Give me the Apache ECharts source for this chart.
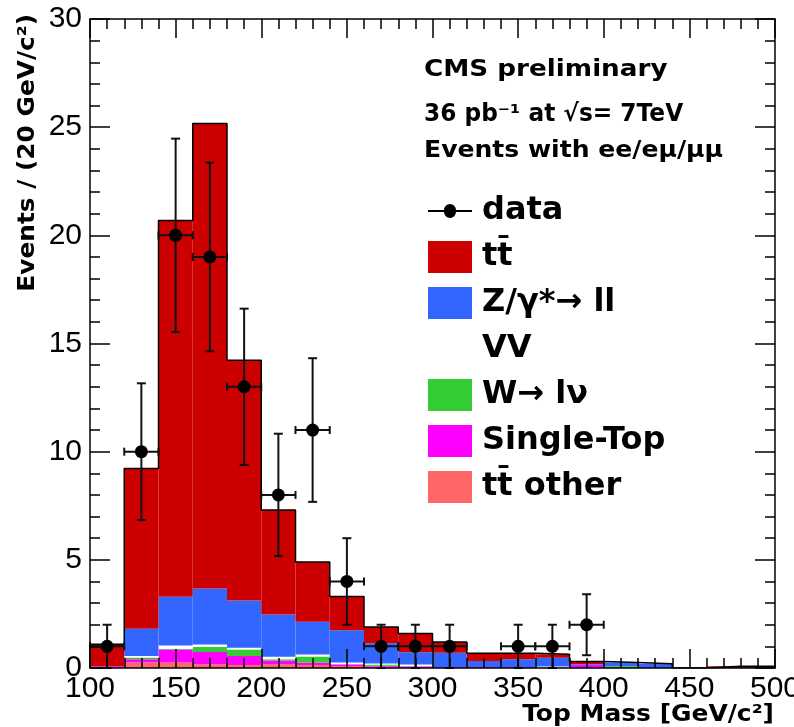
<!DOCTYPE html>
<html><head><meta charset="utf-8">
<script src="https://cdn.jsdelivr.net/npm/echarts@6.0.0/dist/echarts.min.js"></script>
<style>html,body{margin:0;padding:0;background:#fff}#c{width:794px;height:727px}</style>
</head><body><div id="c"></div>
<script>
// ---- bins (GeV/c^2) ----
const binLow  = [100,120,140,160,180,200,220,240,260,280,300,320,340,360,380,400,420,440,460,480];
const binHigh = [120,140,160,180,200,220,240,260,280,300,320,340,360,380,400,420,440,460,480,500];
// ---- stacked MC components (events / bin) ----
const ttbar     = [1.02,7.40,17.40,21.50,11.10,4.83,2.76,1.56,0.76,0.87,0.50,0.36,0.28,0.16,0.12,0.00,0.00,0.00,0.08,0.08];
const zll       = [0.00,1.26,2.25,2.58,2.18,1.95,1.52,1.49,0.93,0.57,0.65,0.27,0.35,0.40,0.03,0.17,0.20,0.00,0.00,0.00];
const vv        = [0.00,0.08,0.15,0.12,0.08,0.12,0.09,0.08,0.05,0.08,0.00,0.00,0.00,0.05,0.00,0.00,0.00,0.00,0.00,0.00];
const wlnu      = [0.00,0.08,0.03,0.23,0.31,0.05,0.28,0.00,0.06,0.00,0.00,0.00,0.00,0.00,0.00,0.08,0.00,0.00,0.00,0.00];
const singleTop = [0.08,0.15,0.61,0.57,0.41,0.18,0.11,0.08,0.04,0.03,0.05,0.05,0.05,0.02,0.15,0.00,0.00,0.00,0.00,0.00];
const ttOther   = [0.00,0.25,0.25,0.17,0.14,0.17,0.14,0.09,0.06,0.05,0.00,0.00,0.00,0.00,0.00,0.00,0.00,0.00,0.00,0.00];
// ---- data ----
const dataX       = [110,130,150,170,190,210,230,250,270,290,310,350,370,390];
const dataY       = [1,10,20,19,13,8,11,4,1,1,1,1,1,2];
const dataErrLow  = [1,3.16,4.47,4.36,3.61,2.83,3.32,2,1,1,1,1,1,1.41];
const dataErrHigh = [1,3.16,4.47,4.36,3.61,2.83,3.32,2,1,1,1,1,1,1.41];
const dataXErr    = [10,10,10,10,10,10,10,10,10,10,10,10,10,10];
// ---- labels ----
const legendNames = ['data','tt\u0304','Z/\u03b3*\u2192 ll','VV','W\u2192 l\u03bd','Single-Top','tt\u0304 other'];
const headerLines = ['CMS preliminary','36 pb\u207b\u00b9 at \u221as= 7TeV','Events with ee/e\u03bc/\u03bc\u03bc'];
const xTitle = 'Top Mass [GeV/c\u00b2]';
const yTitle = 'Events / (20 GeV/c\u00b2)';

const components = [ // bottom -> top
  {name: legendNames[6], vals: ttOther,   color: '#ff6666'},
  {name: legendNames[5], vals: singleTop, color: '#ff00ff'},
  {name: legendNames[4], vals: wlnu,      color: '#33cc33'},
  {name: legendNames[3], vals: vv,        color: '#ffffff'},
  {name: legendNames[2], vals: zll,       color: '#3366ff'},
  {name: legendNames[1], vals: ttbar,     color: '#cc0000'}
];
const base = binLow.map(() => 0);
const stackSeries = components.map(c => {
  const items = binLow.map((lo, i) => {
    const b = base[i];
    base[i] = b + c.vals[i];
    return [lo, binHigh[i], b, b + c.vals[i]];
  });
  return {
    type: 'custom', name: c.name, z: 2,
    itemStyle: {color: c.color},
    encode: {x: [0, 1], y: [2, 3]},
    data: items,
    renderItem: function (params, api) {
      if (api.value(3) - api.value(2) <= 0) return null;
      const p0 = api.coord([api.value(0), api.value(3)]);
      const p1 = api.coord([api.value(1), api.value(2)]);
      return {type: 'rect', shape: {x: p0[0], y: p0[1], width: p1[0] - p0[0], height: p1[1] - p0[1]},
              style: {fill: c.color}};
    }
  };
});
// outline of the total stack (step line)
const outline = [[binLow[0], 0]];
binLow.forEach((lo, i) => outline.push([lo, base[i]]));
outline.push([binHigh[binHigh.length - 1], base[base.length - 1]]);
outline.push([binHigh[binHigh.length - 1], 0]);

const dataItems = dataX.map((x, i) => [x, dataY[i], dataErrLow[i], dataErrHigh[i], dataXErr[i]]);

const chart = echarts.init(document.getElementById('c'), null, {renderer: 'canvas'});
const tickLine = {color: '#000', width: 1.5};
const labelFont = {fontFamily: '"Liberation Sans", Arial, sans-serif', fontSize: 30, color: '#000'};
const dataIcon = 'path://M0,15h16a6,6 0 1,1 12,0h16v2h-16a6,6 0 1,1 -12,0h-16z';

const option = {
  animation: false,
  backgroundColor: '#fff',
  grid: {left: 90, right: 19, top: 19, bottom: 59, containLabel: false, outerBoundsMode: 'none'},
  xAxis: [
    {type: 'value', min: 100, max: 500, interval: 50, position: 'bottom', z: 10,
     axisLine: {show: true, onZero: false, lineStyle: tickLine},
     axisTick: {show: true, inside: true, length: 19, lineStyle: tickLine},
     minorTick: {show: true, splitNumber: 5, length: 10, lineStyle: tickLine},
     axisLabel: Object.assign({margin: 6, showMinLabel: true, showMaxLabel: true, hideOverlap: false}, labelFont),
     splitLine: {show: false}, minorSplitLine: {show: false}},
    {type: 'value', min: 100, max: 500, interval: 50, position: 'top', z: 10,
     axisLine: {show: true, onZero: false, lineStyle: tickLine},
     axisTick: {show: true, inside: true, length: 19, lineStyle: tickLine},
     minorTick: {show: true, splitNumber: 5, length: 10, lineStyle: tickLine},
     axisLabel: {show: false}, splitLine: {show: false}}
  ],
  yAxis: [
    {type: 'value', min: 0, max: 30, interval: 5, position: 'left', z: 10,
     axisLine: {show: true, onZero: false, lineStyle: tickLine},
     axisTick: {show: true, inside: true, length: 20, lineStyle: tickLine},
     minorTick: {show: true, splitNumber: 5, length: 10, lineStyle: tickLine},
     axisLabel: Object.assign({margin: 8, showMinLabel: true, showMaxLabel: true, hideOverlap: false}, labelFont),
     splitLine: {show: false}, minorSplitLine: {show: false}},
    {type: 'value', min: 0, max: 30, interval: 5, position: 'right', z: 10,
     axisLine: {show: true, onZero: false, lineStyle: tickLine},
     axisTick: {show: true, inside: true, length: 20, lineStyle: tickLine},
     minorTick: {show: true, splitNumber: 5, length: 10, lineStyle: tickLine},
     axisLabel: {show: false}, splitLine: {show: false}}
  ],
  legend: {
    orient: 'vertical', left: 428, top: 195, padding: 0, itemWidth: 44, itemHeight: 32, itemGap: 14,
    selectedMode: false,
    textStyle: {fontFamily: '"DejaVu Sans", sans-serif', fontWeight: 'bold', fontSize: 32, color: '#000',
                lineHeight: 32, padding: [0, 0, 0, 5]},
    data: [
      {name: legendNames[0], icon: dataIcon},
      {name: legendNames[1], icon: 'rect'},
      {name: legendNames[2], icon: 'rect'},
      {name: legendNames[3], icon: 'rect'},
      {name: legendNames[4], icon: 'rect'},
      {name: legendNames[5], icon: 'rect'},
      {name: legendNames[6], icon: 'rect'}
    ]
  },
  graphic: [
    {type: 'text', x: 424, y: 70.5, scaleX: 1.14, z: 20,
     style: {text: headerLines[0], font: 'bold 23px "DejaVu Sans"', fill: '#000', verticalAlign: 'middle', align: 'left'}},
    {type: 'text', x: 424, y: 114.5, scaleX: 0.97, z: 20,
     style: {text: headerLines[1], font: 'bold 24px "DejaVu Sans"', fill: '#000', verticalAlign: 'middle', align: 'left'}},
    {type: 'text', x: 424, y: 151, scaleX: 1.09, z: 20,
     style: {text: headerLines[2], font: 'bold 23px "DejaVu Sans"', fill: '#000', verticalAlign: 'middle', align: 'left'}},
    {type: 'text', x: 774, y: 715, scaleX: 1.085, z: 20,
     style: {text: xTitle, font: 'bold 23px "DejaVu Sans"', fill: '#000', verticalAlign: 'middle', align: 'right'}},
    {type: 'text', x: 28, y: 14, rotation: Math.PI / 2, scaleX: 1.08, z: 20,
     style: {text: yTitle, font: 'bold 23px "DejaVu Sans"', fill: '#000', verticalAlign: 'middle', align: 'right'}}
  ],
  series: stackSeries.concat([
    {type: 'line', name: 'total', step: 'end', data: outline, symbol: 'none', z: 3,
     lineStyle: {color: '#000', width: 1.5}, silent: true, legendHoverLink: false},
    {type: 'custom', name: legendNames[0], z: 4, itemStyle: {color: '#000'},
     encode: {x: 0, y: 1},
     data: dataItems,
     renderItem: function (params, api) {
       const x = api.value(0), y = api.value(1), lo = api.value(2), hi = api.value(3), xe = api.value(4);
       const c = api.coord([x, y]);
       const top = api.coord([x, y + hi]);
       const bot = api.coord([x, y - lo]);
       const l = api.coord([x - xe, y]);
       const r = api.coord([x + xe, y]);
       const ls = {stroke: '#111', lineWidth: 2};
       return {type: 'group', children: [
         {type: 'line', shape: {x1: c[0], y1: top[1], x2: c[0], y2: bot[1]}, style: ls},
         {type: 'line', shape: {x1: c[0] - 4.5, y1: top[1], x2: c[0] + 4.5, y2: top[1]}, style: ls},
         {type: 'line', shape: {x1: c[0] - 4.5, y1: bot[1], x2: c[0] + 4.5, y2: bot[1]}, style: ls},
         {type: 'line', shape: {x1: l[0], y1: c[1], x2: r[0], y2: c[1]}, style: ls},
         {type: 'line', shape: {x1: l[0], y1: c[1] - 4, x2: l[0], y2: c[1] + 4}, style: ls},
         {type: 'line', shape: {x1: r[0], y1: c[1] - 4, x2: r[0], y2: c[1] + 4}, style: ls},
         {type: 'circle', shape: {cx: c[0], cy: c[1], r: 6.5}, style: {fill: '#000'}}
       ]};
     }}
  ])
};
chart.setOption(option);
</script>
</body></html>
